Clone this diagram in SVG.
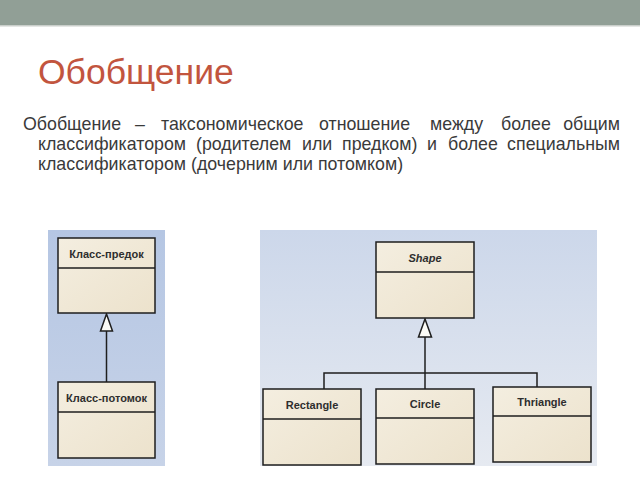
<svg xmlns="http://www.w3.org/2000/svg" width="640" height="480" viewBox="0 0 640 480">
<defs>
<linearGradient id="boxg" x1="0" y1="0" x2="1" y2="1">
<stop offset="0" stop-color="#f4eee0"/>
<stop offset="1" stop-color="#ece2cc"/>
</linearGradient>
<linearGradient id="lp" x1="0" y1="0" x2="0" y2="1">
<stop offset="0" stop-color="#b5c6e3"/>
<stop offset="1" stop-color="#c7d3e8"/>
</linearGradient>
<linearGradient id="rp" x1="0" y1="0" x2="0" y2="1">
<stop offset="0" stop-color="#ccd7ea"/>
<stop offset="1" stop-color="#e6eaf1"/>
</linearGradient>
</defs>
<style>
.box{fill:url(#boxg);stroke:#1e1e1e;stroke-width:1.5}
.div{stroke:#1e1e1e;stroke-width:1.5}
.lbl{font-family:"Liberation Sans",Arial,sans-serif;font-weight:bold;font-size:11px;fill:#2e2e2e;text-anchor:middle}
.con{fill:none;stroke:#1e1e1e;stroke-width:1.5}
.tri{fill:#fbfbf6;stroke:#1e1e1e;stroke-width:1.5}
.body{font-family:"Liberation Sans",Arial,sans-serif;font-size:17.8px;fill:#3a3a3a}
</style>
<rect width="640" height="480" fill="#ffffff"/>
<rect x="0" y="0" width="640" height="25" fill="#919f96"/>
<rect x="0" y="25" width="640" height="1.5" fill="#c9ceca"/>
<text x="38" y="84" font-family="'Liberation Sans',Arial,sans-serif" font-size="35.5" fill="#c2553e">Обобщение</text>
<g class="body">
<text y="130"><tspan x="23">Обобщение</tspan><tspan x="135">–</tspan><tspan x="161">таксономическое</tspan><tspan x="319">отношение</tspan><tspan x="430">между</tspan><tspan x="501">более</tspan><tspan x="620" text-anchor="end">общим</tspan></text>
<text y="150"><tspan x="38">классификатором</tspan><tspan x="196">(родителем</tspan><tspan x="302">или</tspan><tspan x="342">предком)</tspan><tspan x="427">и</tspan><tspan x="448">более</tspan><tspan x="620" text-anchor="end">специальным</tspan></text>
<text x="38" y="170">классификатором (дочерним или потомком)</text>
</g>
<rect x="48" y="230" width="117" height="236" fill="url(#lp)"/>
<rect x="260" y="230" width="337" height="236" fill="url(#rp)"/>
<g id="connectors">
<line class="con" x1="106.5" y1="331" x2="106.5" y2="382"/>
<polygon class="tri" points="106.5,314 100.5,331 112.5,331"/>
<polyline class="con" points="425,337 425,373"/>
<polyline class="con" points="324,389 324,373 537,373 537,387"/>
<line class="con" x1="425" y1="373" x2="425" y2="389"/>
<polygon class="tri" points="425,319 418.5,337 431.5,337"/>
</g>
<g id="klass-predok">
<rect class="box" x="58" y="238" width="97" height="75"/>
<line class="div" x1="58" y1="268" x2="155" y2="268"/>
<text class="lbl" x="106.5" y="258">Класс-предок</text>
</g>
<g id="klass-potomok">
<rect class="box" x="58" y="382" width="97" height="76"/>
<line class="div" x1="58" y1="412" x2="155" y2="412"/>
<text class="lbl" x="106.5" y="402">Класс-потомок</text>
</g>
<g id="shape">
<rect class="box" x="376" y="242" width="98" height="76"/>
<line class="div" x1="376" y1="272" x2="474" y2="272"/>
<text class="lbl" x="425" y="262" font-style="italic" font-weight="normal">Shape</text>
</g>
<g id="rectangle">
<rect class="box" x="263" y="389" width="98" height="76"/>
<line class="div" x1="263" y1="419" x2="361" y2="419"/>
<text class="lbl" x="312" y="409">Rectangle</text>
</g>
<g id="circle">
<rect class="box" x="376" y="389" width="98" height="75"/>
<line class="div" x1="376" y1="418" x2="474" y2="418"/>
<text class="lbl" x="425" y="408">Circle</text>
</g>
<g id="thriangle">
<rect class="box" x="493" y="387" width="98" height="75"/>
<line class="div" x1="493" y1="416" x2="591" y2="416"/>
<text class="lbl" x="542" y="406">Thriangle</text>
</g>
</svg>
